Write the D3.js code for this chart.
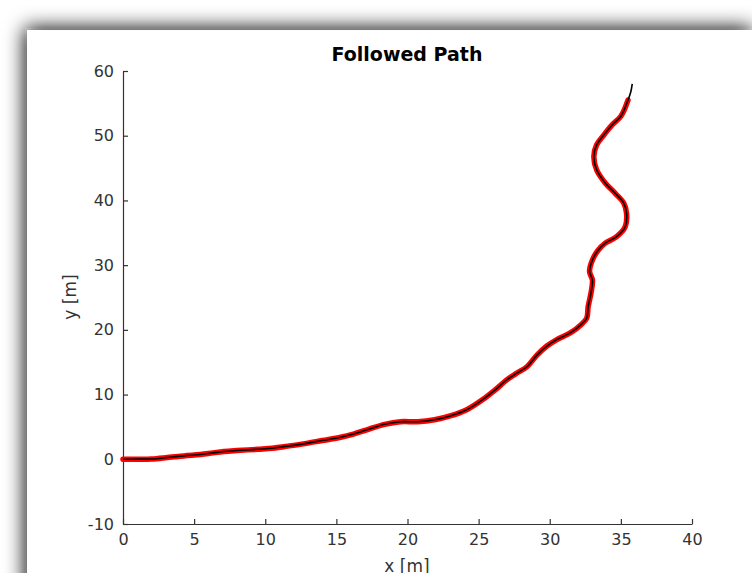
<!DOCTYPE html>
<html>
<head>
<meta charset="utf-8">
<script src="https://cdn.jsdelivr.net/npm/d3@7"></script>
<style>
html,body{margin:0;padding:0;background:#fff;}
svg{display:block;font-family:"DejaVu Sans",sans-serif;}
</style>
</head>
<body>
<svg id="chart" width="752" height="573"></svg>
<script>
// Reference path (red)
const refX = [0,1,2,3,3.6,5,6,7.1,8,9.5,10.5,11.3,12,13,14,15.3,16.2,17.2,18.4,19.5,20.7,21.9,23,24.2,25.4,26.1,27,27.6,28.4,29.1,29.8,30.5,31.5,32.2,32.6,32.7,32.9,33.0,32.8,33.0,33.4,33.9,34.7,35.3,35.4,35.2,34.6,33.9,33.3,33.1,33.3,33.8,34.4,35.0,35.5];
const refY = [0,0.02,0.05,0.25,0.4,0.66,0.9,1.2,1.35,1.55,1.7,1.95,2.15,2.5,2.9,3.4,3.9,4.6,5.4,5.8,5.8,6.1,6.7,7.7,9.4,10.6,12.3,13.2,14.3,16.1,17.5,18.5,19.6,20.8,21.8,23.6,25.7,27.7,29.0,30.8,32.3,33.4,34.4,35.9,38.0,39.6,41.1,42.7,44.7,46.8,48.6,50.1,51.7,53.0,55.5];
// Followed path (black)
const pathX = [0,1,2,3,3.6,5,6,7.1,8,9.5,10.5,11.3,12,13,14,15.3,16.2,17.2,18.4,19.5,20.7,21.9,23,24.2,25.4,26.1,27,27.6,28.4,29.1,29.8,30.5,31.5,32.2,32.6,32.7,32.9,33.0,32.8,33.0,33.4,33.9,34.7,35.3,35.4,35.2,34.6,33.9,33.3,33.1,33.3,33.8,34.4,35.0,35.5,35.7,35.8];
const pathY = [0,0.02,0.05,0.25,0.4,0.66,0.9,1.2,1.35,1.55,1.7,1.95,2.15,2.5,2.9,3.4,3.9,4.6,5.4,5.8,5.8,6.1,6.7,7.7,9.4,10.6,12.3,13.2,14.3,16.1,17.5,18.5,19.6,20.8,21.8,23.6,25.7,27.7,29.0,30.8,32.3,33.4,34.4,35.9,38.0,39.6,41.1,42.7,44.7,46.8,48.6,50.1,51.7,53.0,55.5,56.8,58.0];
const xTicks = [0,5,10,15,20,25,30,35,40];
const yTicks = [-10,0,10,20,30,40,50,60];
const titleText = "Followed Path";
const xLabel = "x [m]";
const yLabel = "y [m]";

const svg = d3.select("#chart");
const defs = svg.append("defs");
const f = defs.append("filter").attr("id","shadow").attr("x","-20%").attr("y","-20%").attr("width","140%").attr("height","140%");
f.append("feGaussianBlur").attr("stdDeviation",10);

// window shadow + panel
svg.append("rect").attr("x",25).attr("y",28).attr("width",727).attr("height",600)
  .attr("fill","#111").attr("filter","url(#shadow)");
svg.append("rect").attr("x",27).attr("y",30).attr("width",760).attr("height",600).attr("fill","#fff");

const x = d3.scaleLinear().domain([0,40]).range([123,692]);
const y = d3.scaleLinear().domain([-10,60]).range([524,71]);
const axisColor = "#333";

const gx = svg.append("g").attr("transform","translate(0,524)")
  .call(d3.axisBottom(x).tickValues(xTicks).tickFormat(d=>String(d)).tickSizeInner(-5).tickSizeOuter(0).tickPadding(10));
const gy = svg.append("g").attr("transform","translate(123,0)")
  .call(d3.axisLeft(y).tickValues(yTicks).tickFormat(d=>String(d)).tickSizeInner(-5).tickSizeOuter(0).tickPadding(9));
[gx,gy].forEach(g=>{
  g.select(".domain").attr("stroke",axisColor).attr("stroke-width",1.2);
  g.selectAll(".tick line").attr("stroke",axisColor).attr("stroke-width",1.2);
  g.selectAll(".tick text").attr("fill",axisColor).style("font-size","16px").style("font-family","DejaVu Sans");
});

const refData = refX.map((v,i)=>[v,refY[i]]);
const pathData = pathX.map((v,i)=>[v,pathY[i]]);
const line = d3.line().x(d=>x(d[0])).y(d=>y(d[1])).curve(d3.curveCatmullRom.alpha(0.5));

svg.append("path").attr("d",line(refData)).attr("fill","none").attr("stroke","#ff0000")
  .attr("stroke-width",5.5).attr("stroke-linecap","round").attr("stroke-linejoin","round");
svg.append("path").attr("d",line(pathData)).attr("fill","none").attr("stroke","#000")
  .attr("stroke-width",1.6).attr("stroke-linejoin","round");

svg.append("text").attr("x",407).attr("y",61).attr("text-anchor","middle")
  .style("font-weight","bold").style("font-size","19px").attr("fill","#000").text(titleText);
svg.append("text").attr("x",407).attr("y",572).attr("text-anchor","middle")
  .style("font-size","17px").attr("fill",axisColor).text(xLabel);
svg.append("text").attr("transform","translate(76,297) rotate(-90)").attr("text-anchor","middle")
  .style("font-size","17px").attr("fill",axisColor).text(yLabel);
</script>
</body>
</html>
